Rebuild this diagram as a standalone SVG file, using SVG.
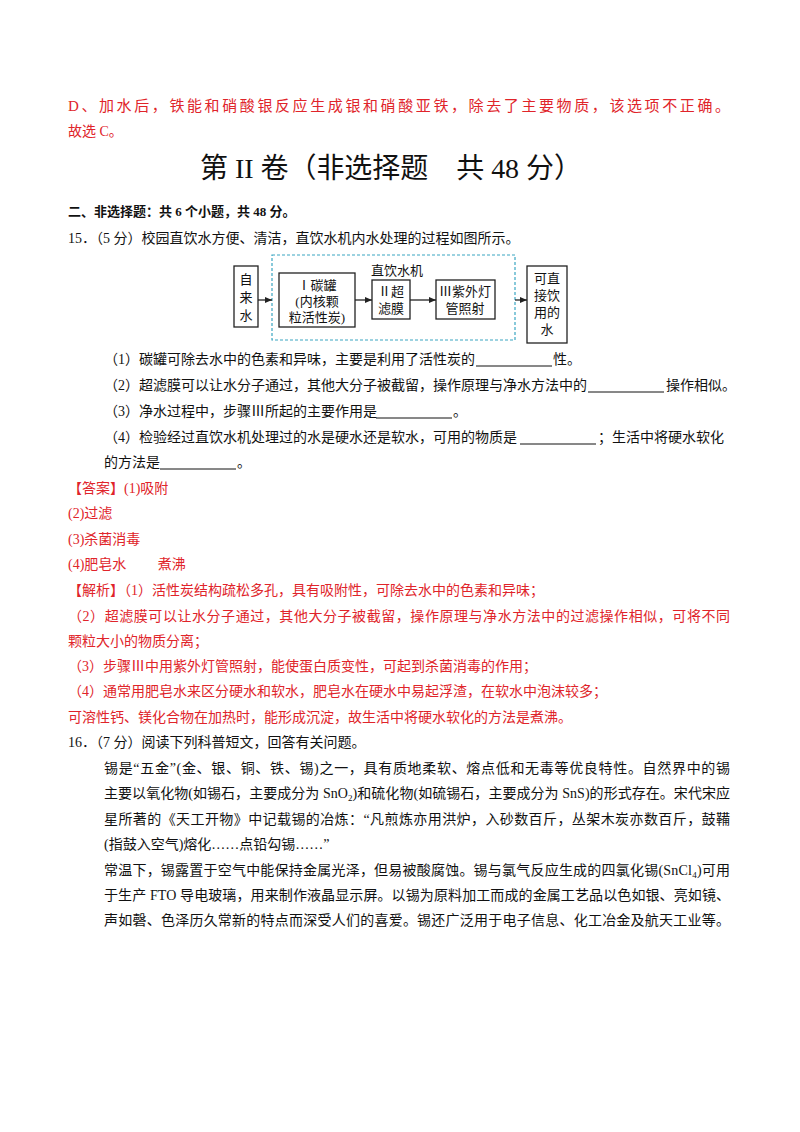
<svg xmlns="http://www.w3.org/2000/svg" width="800" height="1132" viewBox="0 0 800 1132">
<style>
text{font-family:"Liberation Serif","Noto Sans CJK SC",serif;font-size:14px;fill:#111}
.r{fill:#e0242a}
.b{font-weight:bold}
.n{fill:#fff;stroke:#222;stroke-width:1.3}
.c{stroke:#222;stroke-width:1.3;fill:none}
.u{stroke:#111;stroke-width:1}
</style>
<defs><marker id="a" markerWidth="8" markerHeight="8" refX="7" refY="4" orient="auto" markerUnits="userSpaceOnUse"><path d="M0,1 L7,4 L0,7 Z" fill="#222"/></marker></defs>
<rect width="800" height="1132" fill="#fff"/>
<text x="68" y="111" class="r" style="font-size:15px" textLength="662">D、加水后，铁能和硝酸银反应生成银和硝酸亚铁，除去了主要物质，该选项不正确。</text>
<text x="68" y="136" class="r">故选 C。</text>
<text x="200" y="178" style="font-size:28px" textLength="382">第 II 卷（非选择题　共 48 分）</text>
<text x="68" y="216" class="b" style="font-size:13px">二、非选择题：共 6 个小题，共 48 分。</text>
<text x="68" y="243">15．（5 分）校园直饮水方便、清洁，直饮水机内水处理的过程如图所示。</text>

<g id="dashbox"><rect x="272" y="255" width="243" height="85" fill="none" stroke="#3aa6c2" stroke-width="1.2" stroke-dasharray="3,2"/><text x="397" y="275" text-anchor="middle" style="font-size:13px">直饮水机</text></g>
<g id="n1"><rect class="n" x="234" y="266" width="24" height="61"/><text x="246" y="284" text-anchor="middle" style="font-size:13px">自</text><text x="246" y="302" text-anchor="middle" style="font-size:13px">来</text><text x="246" y="320" text-anchor="middle" style="font-size:13px">水</text></g>
<g id="n2"><rect class="n" x="279" y="273" width="76" height="54"/><text x="317" y="290" text-anchor="middle" style="font-size:13px">Ⅰ碳罐</text><text x="317" y="306" text-anchor="middle" style="font-size:13px">(内核颗</text><text x="317" y="322" text-anchor="middle" style="font-size:13px">粒活性炭)</text></g>
<g id="n3"><rect class="n" x="372" y="280" width="38" height="39"/><text x="391" y="296" text-anchor="middle" style="font-size:13px">Ⅱ超</text><text x="391" y="313" text-anchor="middle" style="font-size:13px">滤膜</text></g>
<g id="n4"><rect class="n" x="436" y="280" width="59" height="39"/><text x="465" y="296" text-anchor="middle" style="font-size:13px">Ⅲ紫外灯</text><text x="465" y="313" text-anchor="middle" style="font-size:13px">管照射</text></g>
<g id="n5"><rect class="n" x="527" y="266" width="40" height="77"/><text x="547" y="283" text-anchor="middle" style="font-size:13px">可直</text><text x="547" y="300" text-anchor="middle" style="font-size:13px">接饮</text><text x="547" y="317" text-anchor="middle" style="font-size:13px">用的</text><text x="547" y="334" text-anchor="middle" style="font-size:13px">水</text></g>
<g id="connectors">
<line class="c" x1="258" y1="300" x2="272" y2="300" marker-end="url(#a)"/>
<line class="c" x1="355" y1="300" x2="372" y2="300" marker-end="url(#a)"/>
<line class="c" x1="410" y1="300" x2="436" y2="300" marker-end="url(#a)"/>
<line class="c" x1="515" y1="300" x2="527" y2="300" marker-end="url(#a)"/>
</g>

<text x="104" y="364">（1）碳罐可除去水中的色素和异味，主要是利用了活性炭的</text><line class="u" x1="476" y1="366" x2="552" y2="366"/><text x="553" y="364">性。</text>
<text x="104" y="390">（2）超滤膜可以让水分子通过，其他大分子被截留，操作原理与净水方法中的</text><line class="u" x1="588" y1="392" x2="664" y2="392"/><text x="666" y="390">操作相似。</text>
<text x="104" y="416">（3）净水过程中，步骤Ⅲ所起的主要作用是</text><line class="u" x1="376" y1="418" x2="452" y2="418"/><text x="453" y="416">。</text>
<text x="104" y="442">（4）检验经过直饮水机处理过的水是硬水还是软水，可用的物质是</text><line class="u" x1="520" y1="444" x2="596" y2="444"/><text x="598" y="442">；生活中将硬水软化</text>
<text x="104" y="467">的方法是</text><line class="u" x1="160" y1="469" x2="236" y2="469"/><text x="237" y="467">。</text>

<text x="68" y="493" class="r">【答案】(1)吸附</text>
<text x="68" y="518" class="r">(2)过滤</text>
<text x="68" y="544" class="r">(3)杀菌消毒</text>
<text x="68" y="569" class="r">(4)肥皂水　　 煮沸</text>
<text x="68" y="595" class="r">【解析】（1）活性炭结构疏松多孔，具有吸附性，可除去水中的色素和异味；</text>
<text x="68" y="621" class="r" textLength="662">（2）超滤膜可以让水分子通过，其他大分子被截留，操作原理与净水方法中的过滤操作相似，可将不同</text>
<text x="68" y="646" class="r">颗粒大小的物质分离；</text>
<text x="68" y="671" class="r">（3）步骤Ⅲ中用紫外灯管照射，能使蛋白质变性，可起到杀菌消毒的作用；</text>
<text x="68" y="696" class="r">（4）通常用肥皂水来区分硬水和软水，肥皂水在硬水中易起浮渣，在软水中泡沫较多；</text>
<text x="68" y="722" class="r">可溶性钙、镁化合物在加热时，能形成沉淀，故生活中将硬水软化的方法是煮沸。</text>
<text x="68" y="747">16．（7 分）阅读下列科普短文，回答有关问题。</text>
<text x="104" y="773" textLength="626">锡是“五金”(金、银、铜、铁、锡)之一，具有质地柔软、熔点低和无毒等优良特性。自然界中的锡</text>
<text x="104" y="798" textLength="626">主要以氧化物(如锡石，主要成分为 SnO<tspan dy="3" style="font-size:9px">2</tspan><tspan dy="-3">)和硫化物(如硫锡石，主要成分为 SnS)的形式存在。宋代宋应</tspan></text>
<text x="104" y="824" textLength="626">星所著的《天工开物》中记载锡的冶炼：“凡煎炼亦用洪炉，入砂数百斤，丛架木炭亦数百斤，鼓鞴</text>
<text x="104" y="849">(指鼓入空气)熔化……点铅勾锡……”</text>
<text x="104" y="875" textLength="626">常温下，锡露置于空气中能保持金属光泽，但易被酸腐蚀。锡与氯气反应生成的四氯化锡(SnCl<tspan dy="3" style="font-size:9px">4</tspan><tspan dy="-3">)可用</tspan></text>
<text x="104" y="900" textLength="626">于生产 FTO 导电玻璃，用来制作液晶显示屏。以锡为原料加工而成的金属工艺品以色如银、亮如镜、</text>
<text x="104" y="925" textLength="626">声如磬、色泽历久常新的特点而深受人们的喜爱。锡还广泛用于电子信息、化工冶金及航天工业等。</text>
</svg>
